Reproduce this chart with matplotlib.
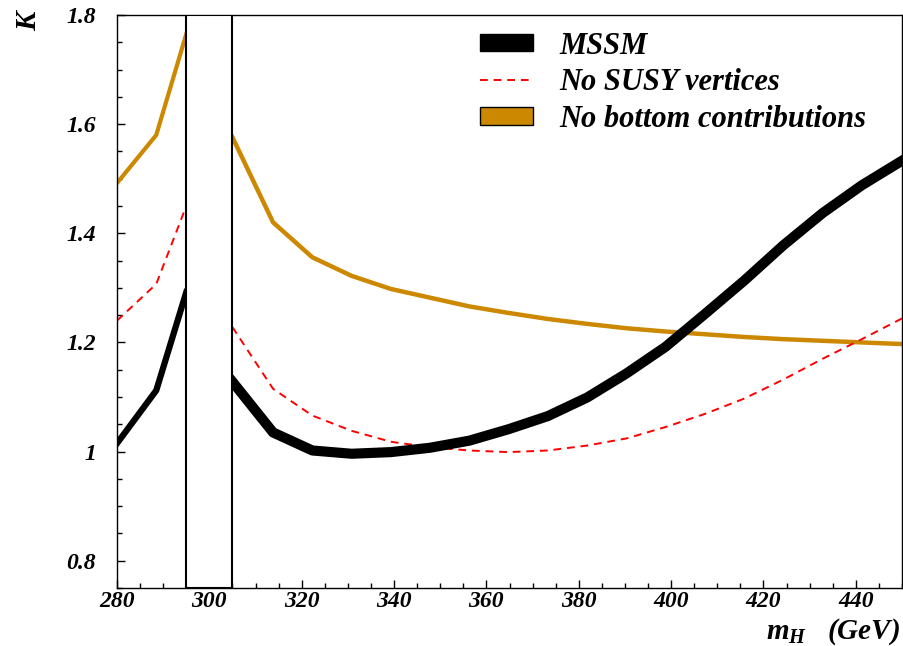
import numpy as np
import matplotlib
matplotlib.use('Agg')
import matplotlib.pyplot as plt
from matplotlib.patches import Patch
from matplotlib.lines import Line2D

plt.rcParams['font.family'] = 'Liberation Serif'
plt.rcParams['font.weight'] = 'bold'
plt.rcParams['font.style'] = 'italic'
plt.rcParams['mathtext.fontset'] = 'custom'
plt.rcParams['mathtext.it'] = 'Liberation Serif:bold:italic'
plt.rcParams['mathtext.rm'] = 'Liberation Serif:bold:italic'

# left of the excluded window (295-305 GeV)
m_left = [280, 288.5, 295]
mssm_left = [1.015, 1.112, 1.292]
nosusy_left = [1.240, 1.307, 1.450]
nobottom_left = [1.492, 1.580, 1.765]

# right of the excluded window
m_right = [305, 313.8, 322.3, 330.8, 339.3, 347.8, 356.3, 364.8, 373.3, 381.8,
           390.3, 398.8, 407.3, 415.8, 424.3, 432.8, 441.3, 450]
mssm_right = [1.128, 1.035, 1.002, 0.996, 0.999, 1.007, 1.020, 1.041, 1.065, 1.099,
              1.143, 1.192, 1.252, 1.313, 1.378, 1.437, 1.488, 1.533]
nosusy_right = [1.228, 1.115, 1.066, 1.038, 1.018, 1.008, 1.002, 0.999, 1.002, 1.011,
                1.024, 1.045, 1.069, 1.097, 1.132, 1.170, 1.206, 1.244]
nobottom_right = [1.576, 1.420, 1.356, 1.322, 1.298, 1.282, 1.266, 1.254, 1.243, 1.234,
                  1.226, 1.220, 1.215, 1.210, 1.206, 1.203, 1.200, 1.197]

gold = '#cc8800'
dash = (0, (4, 3))

fig = plt.figure(figsize=(9.04, 6.46), dpi=100)
ax = fig.add_axes([117/904, 58/646, 785/904, 573/646])

ax.plot(m_left, nobottom_left, color=gold, lw=3)
ax.plot(m_right, nobottom_right, color=gold, lw=3.2)
ax.plot(m_left, nosusy_left, color='red', lw=1.4, ls=dash)
ax.plot(m_right, nosusy_right, color='red', lw=1.4, ls=dash)
ax.plot(m_left, mssm_left, color='black', lw=4.5)
ax.plot(m_right, mssm_right, color='black', lw=7.3)

# excluded window
ax.axvspan(295, 305, facecolor='white', edgecolor='black', lw=1.5, zorder=5)

ax.set_xlim(280, 450)
ax.set_ylim(0.75, 1.8)
ax.set_xticks(np.arange(280, 441, 20))
ax.set_xticks(np.arange(280, 451, 5), minor=True)
ax.set_yticks([0.8, 1.0, 1.2, 1.4, 1.6, 1.8])
ax.set_yticklabels(['0.8', '1', '1.2', '1.4', '1.6', '1.8'])
ax.set_yticks(np.arange(0.75, 1.801, 0.05), minor=True)
ax.tick_params(which='both', direction='in', top=False, right=False, labelsize=17)
ax.tick_params(which='major', length=6, width=1)
ax.tick_params(which='minor', length=3.5, width=1)
ax.tick_params(axis='y', pad=15)
ax.tick_params(axis='x', pad=2)
for s in ax.spines.values():
    s.set_linewidth(1.0)

handles = [Patch(facecolor='black', edgecolor='black'),
           Line2D([0], [0], color='red', lw=1.4, ls=dash),
           Patch(facecolor=gold, edgecolor='black')]
ax.legend(handles, ['MSSM', 'No SUSY vertices', 'No bottom contributions'],
          loc='upper left', bbox_to_anchor=(0.462, 0.971), frameon=False,
          borderpad=0, borderaxespad=0,
          fontsize=22, handlelength=1.73, handleheight=0.5, handletextpad=0.88,
          labelspacing=0.25)

fig.text(29/904, 1 - 21/646, 'K', rotation=90, fontsize=21, ha='center', va='center')
fig.text(900/904, 1 - 639/646, r'$m_H$   (GeV)', fontsize=21, ha='right', va='baseline')

fig.savefig('out.png', dpi=100)
